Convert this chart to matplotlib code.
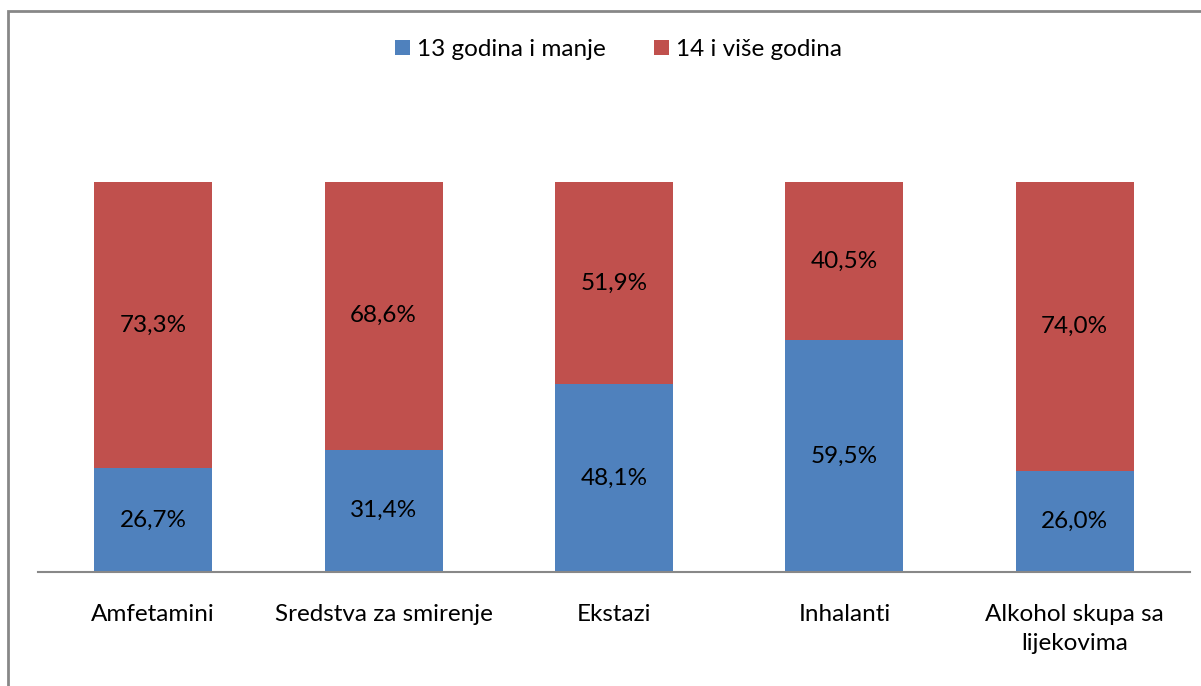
import matplotlib.pyplot as plt
import matplotlib.patches as patches
import numpy as np

plt.rcParams['font.family'] = ['Lato', 'DejaVu Sans']

categories = ["Amfetamini", "Sredstva za smirenje", "Ekstazi", "Inhalanti",
              "Alkohol skupa sa\nlijekovima"]
young = [26.7, 31.4, 48.1, 59.5, 26.0]
older = [73.3, 68.6, 51.9, 40.5, 74.0]
series_names = ["13 godina i manje", "14 i više godina"]

BLUE = "#4F81BD"
RED = "#C0504D"
FS = 17.5


def fmt(v):
    return f"{v:.1f}%".replace(".", ",")


def main():
    fig = plt.figure(figsize=(12.01, 6.86), dpi=100)
    ax = fig.add_axes([38 / 1201, 114 / 686, 1152 / 1201, 390 / 686])

    x = np.arange(len(categories))
    width = 0.512
    b1 = ax.bar(x, young, width, color=BLUE, label=series_names[0])
    b2 = ax.bar(x, older, width, bottom=young, color=RED, label=series_names[1])

    for i in range(len(categories)):
        ax.text(x[i], young[i] / 2, fmt(young[i]), ha="center", va="center",
                fontsize=FS, color="black")
        ax.text(x[i], young[i] + older[i] / 2, fmt(older[i]), ha="center",
                va="center", fontsize=FS, color="black")

    ax.set_xlim(-0.5, len(categories) - 0.5)
    ax.set_ylim(0, 100)
    ax.set_yticks([])
    ax.set_xticks(x)
    ax.set_xticklabels(categories, fontsize=FS, linespacing=1.45)
    ax.tick_params(axis="x", length=0, pad=23)
    for side in ["top", "right", "left"]:
        ax.spines[side].set_visible(False)
    ax.spines["bottom"].set_color("#888888")
    ax.spines["bottom"].set_linewidth(1.5)

    fig.legend(handles=[b1, b2], loc="center", bbox_to_anchor=(0.515, 0.928),
               ncol=2, frameon=False, fontsize=FS, handlelength=0.6,
               handleheight=0.6, handletextpad=0.3, columnspacing=2.0)

    border = patches.Rectangle((8 / 1201, -0.1), 1.2, (686 - 11) / 686 + 0.1,
                               transform=fig.transFigure, fill=False,
                               edgecolor="#878787", linewidth=2)
    fig.patches.append(border)

    fig.savefig("out.png", dpi=100)


if __name__ == '__main__':
    main()
